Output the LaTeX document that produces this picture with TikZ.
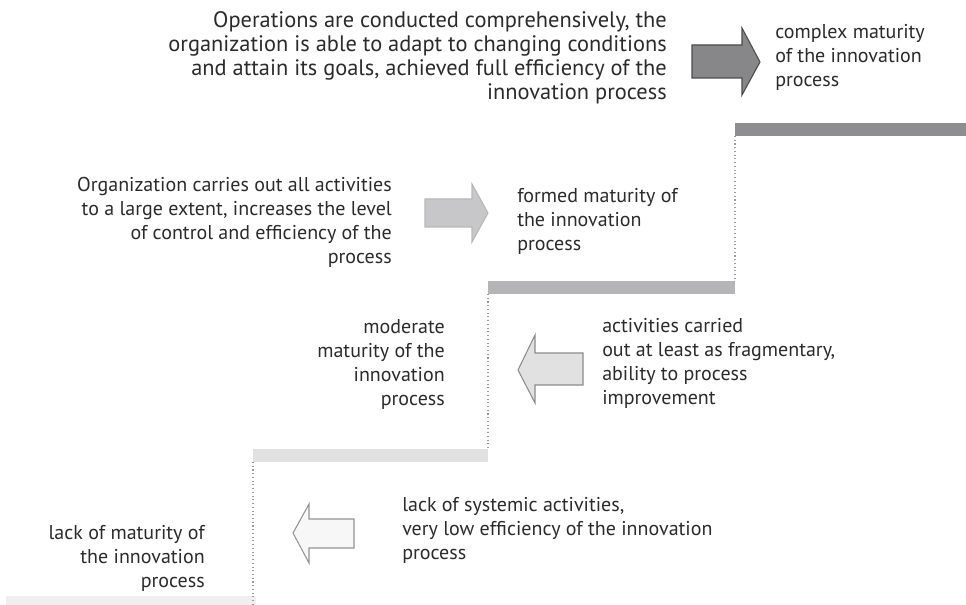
\documentclass[tikz,border=0pt]{standalone}
\usepackage{fontspec}
\setmainfont{PT Sans}
\begin{document}
\begin{tikzpicture}[x=0.75pt,y=-0.75pt,
  lbl/.style={inner sep=0pt,font=\fontsize{15}{18}\selectfont,text=txt},
  lblr/.style={lbl,align=right,anchor=north east},
  lbll/.style={lbl,align=left,anchor=north west},
  riser/.style={draw=riserc,line width=0.8pt,dotted},
  arrowshape/.style={line width=0.8pt,line join=miter}]
\definecolor{txt}{HTML}{2B2B2B}
\definecolor{riserc}{HTML}{9A9A9A}
\definecolor{stepA}{HTML}{EFEFEF}
\definecolor{stepB}{HTML}{E1E1E2}
\definecolor{stepC}{HTML}{B5B5B7}
\definecolor{stepD}{HTML}{8E8E90}
\useasboundingbox (0,0) rectangle (966,605);
\fill[white] (0,0) rectangle (966,605);

% stair treads
\fill[stepA] (6,596) rectangle (256,605);
\fill[stepB] (253,449) rectangle (488,462);
\fill[stepC] (488,281) rectangle (735,294);
\fill[stepD] (735,123) rectangle (966,136);

% dotted risers
\coordinate (r1a) at (253,462); \coordinate (r1b) at (253,605);
\coordinate (r2a) at (488,294); \coordinate (r2b) at (488,449);
\coordinate (r3a) at (735,136); \coordinate (r3b) at (735,281);
\draw[riser] (r1a) -- (r1b);
\draw[riser] (r2a) -- (r2b);
\draw[riser] (r3a) -- (r3b);

% block arrows
\draw[arrowshape,fill=stepD!95!black,draw=black!70]
  (692,45) -- (742,45) -- (742,28) -- (760,62) -- (742,95) -- (742,78) -- (692,78) -- cycle;
\draw[arrowshape,fill=stepC!75!white,draw=black!28]
  (425,199) -- (472,199) -- (472,184) -- (488,213) -- (472,242) -- (472,227) -- (425,227) -- cycle;
\draw[arrowshape,fill=stepB,draw=black!45]
  (583,353) -- (535,353) -- (535,335) -- (518,370) -- (535,403) -- (535,385) -- (583,385) -- cycle;
\draw[arrowshape,fill=black!3,draw=black!42]
  (354,519) -- (309,519) -- (309,504) -- (293,533) -- (309,563) -- (309,548) -- (354,548) -- cycle;

% labels
\node[lblr,font=\fontsize{16.8}{18}\selectfont] (d4) at (667,11) {Operations are conducted comprehensively, the\\organization is able to adapt to changing conditions\\and attain its goals, achieved full efficiency of the\\innovation process};
\node[lbll] (m4) at (775,24) {complex maturity\\of the innovation\\process};
\node[lblr] (d3) at (392,177) {Organization carries out all activities\\to a large extent, increases the level\\of control and efficiency of the\\process};
\node[lbll] (m3) at (517,188) {formed maturity of\\the innovation\\process};
\node[lblr] (m2) at (445,319) {moderate\\maturity of the\\innovation\\process};
\node[lbll] (d2) at (602,318) {activities carried\\out at least as fragmentary,\\ability to process\\improvement};
\node[lblr] (m1) at (205,525) {lack of maturity of\\the innovation\\process};
\node[lbll] (d1) at (402,497) {lack of systemic activities,\\very low efficiency of the innovation\\process};
\end{tikzpicture}
\end{document}
